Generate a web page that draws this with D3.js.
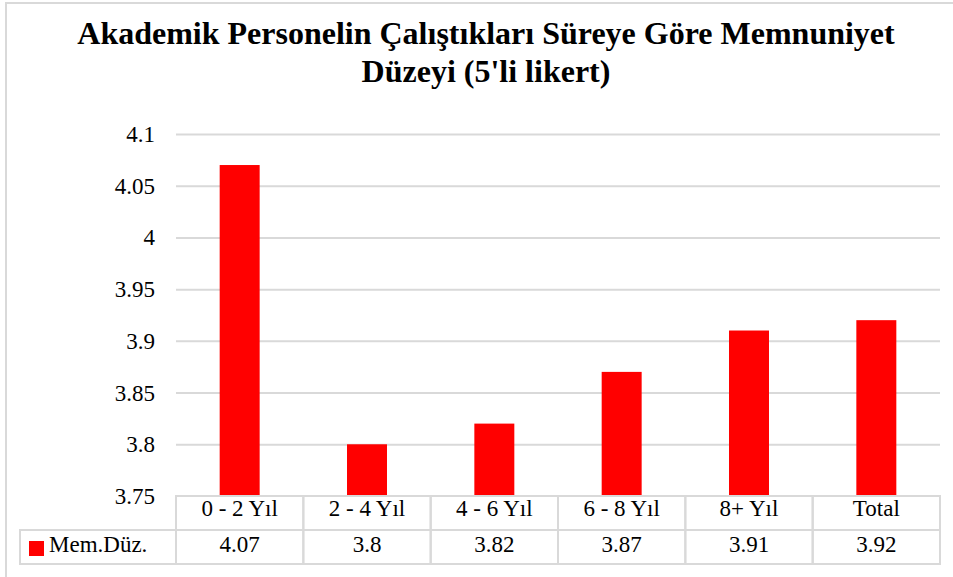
<!DOCTYPE html>
<html>
<head>
<meta charset="utf-8">
<script src="https://cdn.jsdelivr.net/npm/d3@7.9.0/dist/d3.min.js"></script>
<style>
  body { margin: 0; background: #fff; }
  svg { display: block; font-family: "Liberation Serif", "Times New Roman", serif; }
  .grid line { stroke: #d9d9d9; stroke-width: 2; }
  .grid .domain { display: none; }
  .cell { fill: none; stroke: #d9d9d9; stroke-width: 2; }
</style>
</head>
<body>
<div id="chart"></div>
<script>
const width = 953;
const height = 577;

const titleLines = ['Akademik Personelin Çalıştıkları Süreye Göre Memnuniyet', 'Düzeyi (5\'li likert)'];
const categories = ['0 - 2 Yıl', '2 - 4 Yıl', '4 - 6 Yıl', '6 - 8 Yıl', '8+ Yıl', 'Total'];
const values = [4.07, 3.8, 3.82, 3.87, 3.91, 3.92];
const seriesName = 'Mem.Düz.';
const yTicks = [3.75, 3.8, 3.85, 3.9, 3.95, 4, 4.05, 4.1];

const plot = { left: 176, right: 940, top: 134, bottom: 496 };
const rowH = 34;

const svg = d3.select('#chart').append('svg')
  .attr('width', width)
  .attr('height', height);

// outer frame (only top/left visible in the crop)
svg.append('path')
  .attr('d', `M6,${height + 5}V3H${width + 5}`)
  .attr('fill', 'none')
  .attr('stroke', '#d9d9d9')
  .attr('stroke-width', 2);

const title = svg.append('text')
  .attr('x', 486)
  .attr('text-anchor', 'middle')
  .attr('font-weight', 'bold')
  .attr('font-size', 32)
  .attr('fill', '#000');
title.selectAll('tspan')
  .data(titleLines)
  .enter()
  .append('tspan')
  .attr('x', 486)
  .attr('y', (d, i) => 44 + i * 38)
  .text(d => d);

const x = d3.scaleBand()
  .domain(categories)
  .range([plot.left, plot.right])
  .paddingInner(0.686)
  .paddingOuter(0.343);

const y = d3.scaleLinear()
  .domain([3.75, 4.1])
  .range([plot.bottom, plot.top]);

svg.append('g')
  .attr('class', 'grid')
  .attr('transform', `translate(${plot.left},0)`)
  .call(d3.axisLeft(y).tickValues(yTicks.slice(1)).tickSize(-(plot.right - plot.left)).tickFormat(''));

svg.append('g')
  .selectAll('text')
  .data(yTicks)
  .enter()
  .append('text')
  .attr('x', 155)
  .attr('y', d => y(d))
  .attr('dy', '0.35em')
  .attr('text-anchor', 'end')
  .attr('font-size', 23)
  .text(d => d3.format('')(d));

svg.append('g')
  .selectAll('rect')
  .data(values)
  .enter()
  .append('rect')
  .attr('x', (d, i) => x(categories[i]))
  .attr('y', d => y(d))
  .attr('width', x.bandwidth())
  .attr('height', d => y(3.75) - y(d))
  .attr('fill', '#ff0000');

// data table
const step = x.step();
const table = svg.append('g');
const colLeft = (i) => plot.left + i * step;

categories.forEach((c, i) => {
  table.append('rect').attr('class', 'cell')
    .attr('x', colLeft(i)).attr('y', plot.bottom)
    .attr('width', step).attr('height', rowH);
  table.append('rect').attr('class', 'cell')
    .attr('x', colLeft(i)).attr('y', plot.bottom + rowH)
    .attr('width', step).attr('height', rowH);
  table.append('text')
    .attr('x', colLeft(i) + step / 2)
    .attr('y', plot.bottom + 20)
    .attr('text-anchor', 'middle')
    .attr('font-size', 23)
    .text(c);
  table.append('text')
    .attr('x', colLeft(i) + step / 2)
    .attr('y', plot.bottom + rowH + 22)
    .attr('text-anchor', 'middle')
    .attr('font-size', 23)
    .text(values[i]);
});

table.append('rect').attr('class', 'cell')
  .attr('x', 20).attr('y', plot.bottom + rowH)
  .attr('width', plot.left - 20).attr('height', rowH);
table.append('rect')
  .attr('x', 29).attr('y', plot.bottom + rowH + 11)
  .attr('width', 15).attr('height', 15)
  .attr('fill', '#ff0000');
table.append('text')
  .attr('x', 49)
  .attr('y', plot.bottom + rowH + 22)
  .attr('font-size', 23)
  .text(seriesName);
</script>
</body>
</html>
